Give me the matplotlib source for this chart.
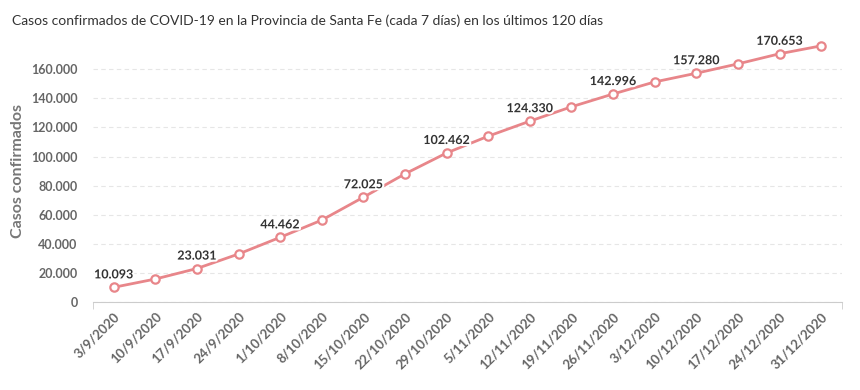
import matplotlib.pyplot as plt
from matplotlib.ticker import FuncFormatter
import matplotlib.patheffects as pe

fechas = ['3/9/2020', '10/9/2020', '17/9/2020', '24/9/2020', '1/10/2020', '8/10/2020',
          '15/10/2020', '22/10/2020', '29/10/2020', '5/11/2020', '12/11/2020', '19/11/2020',
          '26/11/2020', '3/12/2020', '10/12/2020', '17/12/2020', '24/12/2020', '31/12/2020']
casos = [10093, 15800, 23031, 33000, 44462, 56300, 72025, 88100, 102462, 114000,
         124330, 134200, 142996, 151300, 157280, 163700, 170653, 176100]

plt.rcParams['font.family'] = ['Lato', 'DejaVu Sans']

fig = plt.figure(figsize=(8.6, 3.9), dpi=100)
ax = fig.add_axes([0.108, 0.2256, 0.871, 0.6714])

color = '#e8868a'
x = list(range(len(casos)))
ax.plot(x, casos, color=color, lw=2, marker='o', ms=6, mfc='white', mec=color, mew=1.6, zorder=3)

def miles(v, pos=None):
    return f'{int(v):,}'.replace(',', '.')

for i in range(0, len(casos), 2):
    ax.annotate(miles(casos[i]), (i, casos[i]), xytext=(0, 5), textcoords='offset points',
                ha='center', va='bottom', fontsize=9, fontweight='bold', color='#333333',
                path_effects=[pe.withStroke(linewidth=3, foreground='white')], zorder=4)

ax.set_xlim(-0.5, len(casos) - 0.5)
ax.set_ylim(0, 180000)
ax.set_yticks(range(0, 160001, 20000))
ax.yaxis.set_major_formatter(FuncFormatter(miles))
ax.set_xticks(x)
ax.set_xticklabels(fechas, rotation=45, ha='right', rotation_mode='anchor')
ax.set_xticks([-0.5, len(casos) - 0.5], minor=True)

ax.grid(axis='y', color='#e6e6e6', ls=(0, (4, 3)), lw=0.8)
ax.set_axisbelow(True)
for s in ['top', 'right', 'left']:
    ax.spines[s].set_visible(False)
ax.spines['bottom'].set_color('#cccccc')

ax.tick_params(axis='y', length=0, labelsize=9, labelcolor='#666666', pad=11)
ax.tick_params(axis='x', which='major', length=0, labelsize=9.5, labelcolor='#666666', pad=6)
ax.tick_params(axis='x', which='minor', length=5, color='#cccccc')
for lbl in ax.get_xticklabels() + ax.get_yticklabels():
    lbl.set_fontweight('bold')

ax.set_ylabel('Casos confirmados', fontsize=11.5, fontweight='bold', color='#777777', labelpad=4)

fig.text(0.014, 0.948, 'Casos confirmados de COVID-19 en la Provincia de Santa Fe (cada 7 días) en los últimos 120 días',
         fontsize=10, color='#333333', va='center')

fig.savefig('out.png', dpi=100)
